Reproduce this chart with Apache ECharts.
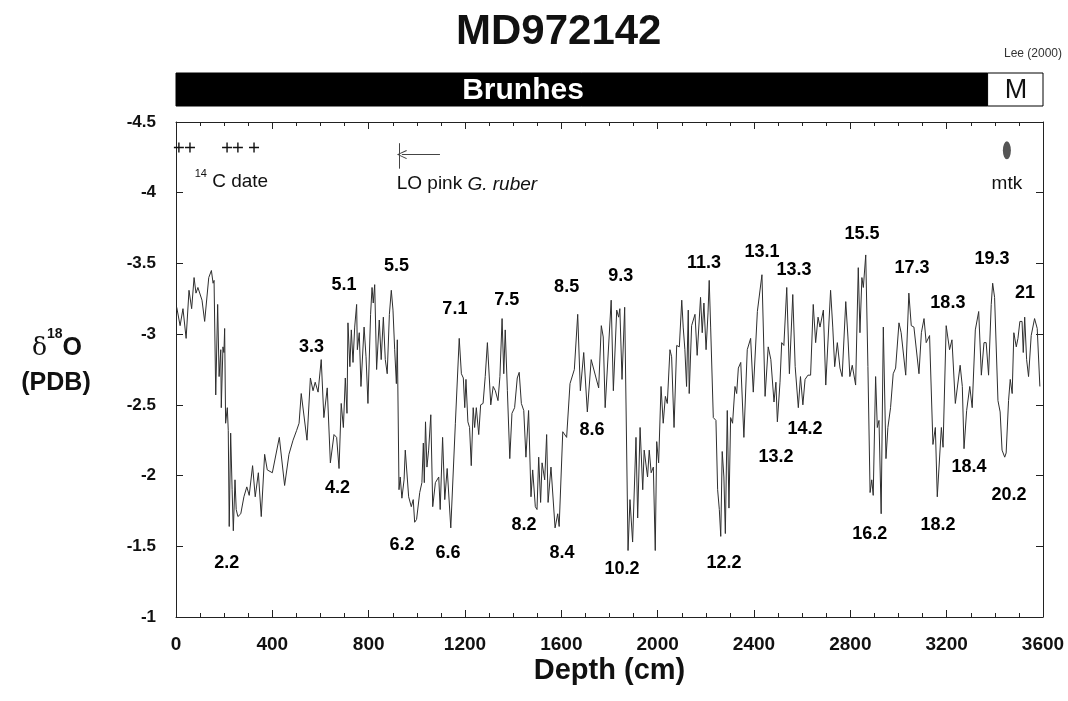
<!DOCTYPE html>
<html>
<head>
<meta charset="utf-8">
<title>MD972142</title>
<script src="https://cdn.jsdelivr.net/npm/echarts@6/dist/echarts.min.js"></script>
<style>
  html, body { margin: 0; padding: 0; background: #fff; }
  #chart { width: 1068px; height: 701px; }
</style>
</head>
<body>
<div id="chart"></div>
<script>
// d18O record, depth in cm
var depthCm = [3, 17, 29, 42, 54, 65, 75, 83, 91, 108, 119, 136, 147, 154, 158, 165, 173, 179, 186, 188,
  195, 199, 202, 206, 213, 217, 221, 227, 233, 238, 245, 250, 257, 269, 282, 294, 304, 318, 329, 342,
  354, 368, 379, 400, 429, 451, 469, 486, 501, 511, 520, 544, 558, 569, 578, 590, 603, 614, 628, 641,
  656, 667, 677, 686, 695, 703, 710, 714, 722, 728, 735, 742, 750, 753, 761, 768, 781, 789, 797, 808,
  814, 819, 825, 833, 844, 852, 861, 869, 877, 886, 894, 901, 908, 915, 919, 926, 931, 938, 947, 952,
  958, 966, 977, 985, 991, 999, 1012, 1021, 1027, 1031, 1036, 1042, 1049, 1058, 1066, 1077, 1091, 1097, 1107, 1116,
  1126, 1141, 1160, 1176, 1185, 1193, 1199, 1204, 1212, 1219, 1226, 1234, 1240, 1247, 1257, 1265, 1275, 1284, 1293, 1307,
  1317, 1326, 1337, 1345, 1354, 1361, 1367, 1376, 1386, 1395, 1406, 1417, 1425, 1434, 1444, 1453, 1464, 1474, 1481, 1492,
  1499, 1506, 1514, 1520, 1531, 1539, 1545, 1557, 1574, 1585, 1591, 1606, 1622, 1636, 1654, 1668, 1679, 1693, 1708, 1724,
  1755, 1766, 1774, 1782, 1807, 1816, 1830, 1838, 1843, 1852, 1863, 1877, 1885, 1896, 1910, 1917, 1927, 1938, 1944, 1958,
  1965, 1973, 1982, 1990, 1996, 2004, 2014, 2023, 2032, 2040, 2051, 2058, 2068, 2079, 2090, 2100, 2106, 2113, 2120, 2127,
  2131, 2141, 2155, 2164, 2178, 2185, 2192, 2201, 2209, 2214, 2220, 2231, 2242, 2249, 2256, 2262, 2268, 2275, 2281, 2289,
  2296, 2303, 2311, 2321, 2328, 2335, 2345, 2358, 2372, 2386, 2397, 2414, 2433, 2446, 2459, 2470, 2483, 2491, 2497, 2508,
  2515, 2524, 2536, 2547, 2561, 2571, 2584, 2593, 2603, 2612, 2624, 2635, 2646, 2656, 2666, 2674, 2688, 2698, 2704, 2718,
  2727, 2735, 2746, 2757, 2766, 2781, 2790, 2798, 2808, 2822, 2833, 2840, 2848, 2854, 2864, 2873, 2882, 2889, 2895, 2905,
  2912, 2919, 2928, 2937, 2948, 2956, 2967, 2978, 2988, 3002, 3011, 3030, 3043, 3053, 3064, 3085, 3095, 3106, 3115, 3129,
  3143, 3153, 3161, 3178, 3185, 3198, 3212, 3222, 3236, 3244, 3256, 3265, 3272, 3283, 3296, 3306, 3319, 3333, 3344, 3355,
  3364, 3374, 3385, 3391, 3399, 3413, 3422, 3430, 3441, 3447, 3457, 3464, 3472, 3479, 3489, 3496, 3504, 3513, 3518, 3524,
  3532, 3540, 3551, 3565, 3576, 3587];
var d18O = [-3.19, -3.06, -3.18, -2.97, -3.31, -3.18, -3.40, -3.29, -3.33, -3.24, -3.09, -3.40, -3.45, -3.36, -3.38, -2.57, -3.21, -2.70, -2.89, -2.48,
  -2.91, -2.87, -3.04, -2.37, -2.48, -2.32, -1.64, -2.30, -1.90, -1.61, -1.97, -1.76, -1.71, -1.73, -1.85, -1.92, -1.86, -2.07, -1.85, -2.02,
  -1.71, -2.15, -2.04, -2.02, -2.27, -1.93, -2.15, -2.25, -2.32, -2.37, -2.58, -2.25, -2.69, -2.60, -2.66, -2.59, -2.82, -2.41, -2.62, -2.09,
  -2.29, -2.27, -2.05, -2.51, -2.34, -2.69, -2.44, -3.08, -2.77, -3.03, -2.80, -3.05, -3.21, -2.89, -3.01, -2.63, -3.05, -2.84, -2.51, -3.14,
  -3.33, -3.22, -3.35, -2.75, -3.10, -2.82, -3.12, -2.82, -2.72, -3.14, -3.31, -3.17, -2.89, -2.65, -2.96, -1.90, -1.99, -1.84, -1.97, -2.18,
  -2.18, -1.85, -1.78, -1.83, -1.67, -1.69, -1.88, -1.95, -2.23, -1.95, -2.38, -2.06, -2.18, -2.43, -1.78, -1.95, -1.99, -1.76, -2.27, -1.83,
  -2.05, -1.63, -2.37, -2.97, -2.72, -2.69, -2.48, -2.68, -2.38, -2.34, -2.07, -2.48, -2.34, -2.48, -2.29, -2.50, -2.51, -2.70, -2.94, -2.50,
  -2.63, -2.60, -2.53, -2.70, -3.11, -2.72, -3.03, -2.60, -2.12, -2.44, -2.48, -2.69, -2.73, -2.51, -2.46, -2.13, -2.46, -1.85, -2.04, -1.78,
  -1.76, -2.13, -1.81, -2.09, -1.97, -2.29, -1.81, -2.06, -1.63, -1.73, -1.64, -2.31, -2.27, -2.65, -2.75, -3.14, -2.60, -2.87, -2.45, -2.82,
  -2.62, -3.06, -2.98, -2.48, -3.24, -2.60, -3.17, -3.12, -3.18, -2.68, -3.19, -1.47, -1.83, -1.53, -2.27, -1.70, -2.34, -1.90, -2.18, -1.99,
  -2.18, -2.02, -2.06, -1.47, -2.24, -2.09, -2.63, -2.37, -2.56, -2.51, -2.89, -2.84, -2.34, -2.92, -2.91, -3.24, -3.05, -2.89, -2.63, -3.17,
  -2.58, -3.06, -3.14, -2.85, -3.26, -3.01, -3.22, -2.89, -3.15, -3.38, -3.05, -2.41, -2.39, -1.90, -1.76, -1.57, -2.17, -1.99, -1.59, -2.46,
  -1.77, -2.41, -2.37, -2.63, -2.58, -2.76, -2.80, -2.27, -2.89, -2.97, -2.59, -3.16, -3.42, -2.56, -2.91, -2.82, -2.52, -2.66, -2.38, -2.66,
  -2.94, -2.92, -3.33, -2.72, -3.28, -2.77, -2.48, -2.70, -2.50, -2.68, -2.71, -2.71, -3.21, -2.94, -3.12, -3.05, -3.17, -2.64, -2.65, -3.31,
  -3.05, -2.77, -2.94, -2.76, -2.70, -3.23, -2.98, -2.70, -2.78, -2.64, -3.47, -3.01, -3.40, -3.33, -3.56, -2.77, -1.88, -1.97, -1.86, -2.70,
  -2.34, -2.39, -1.73, -3.05, -2.12, -2.34, -2.48, -2.72, -2.76, -3.08, -3.01, -2.71, -3.29, -3.06, -3.05, -2.72, -3.01, -3.11, -2.94, -2.99,
  -2.22, -2.34, -1.85, -2.34, -2.20, -3.06, -2.89, -2.96, -2.51, -2.50, -2.78, -2.63, -2.19, -2.46, -2.63, -2.48, -3.03, -3.16, -2.71, -2.94,
  -2.94, -2.71, -3.21, -3.36, -3.26, -2.53, -2.45, -2.18, -2.13, -2.16, -2.53, -2.68, -2.58, -3.01, -2.91, -2.97, -3.09, -3.09, -2.87, -3.12,
  -2.82, -2.70, -2.99, -3.11, -3.04, -2.63];

// marine isotope stage labels (placed at depth / value)
var stageNames = ['2.2', '3.3', '4.2', '5.1', '5.5', '6.2', '6.6', '7.1', '7.5', '8.2', '8.4', '8.5', '8.6', '9.3', '10.2',
  '11.3', '12.2', '13.1', '13.3', '13.2', '14.2', '15.5', '16.2', '17.3', '18.3', '18.2', '18.4', '19.3', '20.2', '21'];
var stageDepths = [211, 563, 671, 698, 916, 938, 1129, 1158, 1373, 1445, 1603, 1622, 1727, 1847, 1852,
  2192, 2275, 2433, 2566, 2491, 2612, 2848, 2881, 3056, 3205, 3164, 3293, 3388, 3459, 3525];
var stageValues = [-1.38, -2.91, -1.91, -3.35, -3.48, -1.51, -1.45, -3.18, -3.24, -1.65, -1.45, -3.33, -2.32, -3.41, -1.34,
  -3.50, -1.38, -3.58, -3.45, -2.13, -2.33, -3.71, -1.59, -3.47, -3.22, -1.65, -2.06, -3.53, -1.86, -3.29];

// 14C dates, LO pink G. ruber, mtk tephra
var c14Depths = [12, 58, 212, 257, 324];
var c14Level = -4.32;
var loRuberDepth = 926;
var mtkDepth = 3450;

// magnetic chrons
var chronNames = ['Brunhes', 'M'];
var chronStart = [0, 3370];
var chronEnd = [3370, 3600];
var chronLabelAt = [1441, 3488];

var FONT = '"Liberation Sans", Arial, Helvetica, sans-serif';

var lineData = depthCm.map(function (d, i) { return [d, d18O[i]]; });
var stageData = stageNames.map(function (n, i) { return [stageDepths[i], stageValues[i], n]; });
var c14Data = c14Depths.map(function (d) { return [d, c14Level]; });
var chronData = chronNames.map(function (n, i) { return [chronStart[i], chronEnd[i], chronLabelAt[i]]; });

var chart = echarts.init(document.getElementById('chart'));

function frameAxis(extra) {
  var base = {
    axisLine: { onZero: false, lineStyle: { color: '#222', width: 1 } },
    axisTick: { show: true, inside: true, length: 7, lineStyle: { color: '#222' } },
    splitLine: { show: false }
  };
  return Object.assign(base, extra);
}

var option = {
  animation: false,
  backgroundColor: '#fff',
  title: {
    text: 'MD972142',
    left: 451,
    top: 6,
    textStyle: { fontFamily: FONT, fontSize: 42, fontWeight: 'bold', color: '#111' }
  },
  graphic: [
    {
      type: 'text', right: 6, top: 48,
      style: { text: 'Lee (2000)', font: '12px ' + FONT, fill: '#333' }
    },
    {
      type: 'text', x: 57, y: 344,
      style: {
        text: '{d|δ}{s|18}{o|O}',
        align: 'center', verticalAlign: 'middle',
        rich: {
          d: { fontFamily: '"DejaVu Serif", serif', fontSize: 25, fill: '#111', lineHeight: 34, verticalAlign: 'bottom' },
          s: { fontFamily: FONT, fontSize: 14, fontWeight: 'bold', fill: '#111', lineHeight: 34, verticalAlign: 'top', padding: [0, 0, 12, 0] },
          o: { fontFamily: FONT, fontSize: 25, fontWeight: 'bold', fill: '#111', lineHeight: 34, verticalAlign: 'bottom' }
        }
      }
    },
    {
      type: 'text', x: 56, y: 383,
      style: {
        text: '(PDB)', align: 'center', verticalAlign: 'middle',
        font: 'bold 25px ' + FONT, fill: '#111'
      }
    }
  ],
  grid: [
    { left: 176, top: 122, width: 867, height: 495 },
    { left: 176, top: 73, width: 867, height: 33 }
  ],
  xAxis: [
    frameAxis({
      gridIndex: 0, type: 'value', position: 'bottom', min: 0, max: 3600, interval: 400,
      name: 'Depth (cm)', nameLocation: 'middle', nameGap: 39, nameMoveOverlap: false,
      nameTextStyle: { fontFamily: FONT, fontSize: 29, fontWeight: 'bold', color: '#111' },
      minorTick: { show: true, splitNumber: 4, length: 4, lineStyle: { color: '#222' } },
      axisLabel: {
        margin: 18, fontFamily: FONT, fontSize: 19, fontWeight: 'bold', color: '#111',
        formatter: function (v) { return String(v); }
      }
    }),
    frameAxis({
      gridIndex: 0, type: 'value', position: 'top', min: 0, max: 3600, interval: 400,
      minorTick: { show: true, splitNumber: 4, length: 4, lineStyle: { color: '#222' } },
      axisLabel: { show: false }
    }),
    { gridIndex: 1, type: 'value', min: 0, max: 3600, show: false }
  ],
  yAxis: [
    frameAxis({
      gridIndex: 0, type: 'value', position: 'left', inverse: true, min: -4.5, max: -1, interval: 0.5,
      axisLabel: { margin: 20, fontFamily: FONT, fontSize: 17, fontWeight: 'bold', color: '#111' }
    }),
    frameAxis({
      gridIndex: 0, type: 'value', position: 'right', inverse: true, min: -4.5, max: -1, interval: 0.5,
      axisLabel: { show: false }
    }),
    { gridIndex: 1, type: 'value', min: 0, max: 1, show: false }
  ],
  series: [
    {
      name: 'd18O', type: 'line', xAxisIndex: 0, yAxisIndex: 0,
      data: lineData, showSymbol: false, symbol: 'none',
      lineStyle: { color: '#2e2e2e', width: 1 },
      markLine: {
        silent: true, symbol: 'none', label: { show: false },
        lineStyle: { color: '#444', width: 1, type: 'solid', opacity: 1 },
        data: [
          [{ coord: [loRuberDepth, -4.35] }, { coord: [loRuberDepth, -4.17] }],
          [{ coord: [loRuberDepth + 170, -4.27], symbol: 'none' },
           { coord: [loRuberDepth + 12, -4.27], symbol: 'path://M5,0 L10,10 L9,10.6 L5,2 L1,10.6 L0,10 Z', symbolSize: [9, 10] }]
        ]
      }
    },
    {
      name: '14C', type: 'scatter', xAxisIndex: 0, yAxisIndex: 0,
      data: c14Data,
      symbol: 'path://M4.3,0 H5.7 V4.3 H10 V5.7 H5.7 V10 H4.3 V5.7 H0 V4.3 H4.3 Z',
      symbolSize: 10, itemStyle: { color: '#111', opacity: 1 }
    },
    {
      name: 'mtk', type: 'scatter', xAxisIndex: 0, yAxisIndex: 0,
      data: [[mtkDepth, -4.30]],
      symbol: 'circle', symbolSize: [8, 18], itemStyle: { color: '#555', opacity: 1 }
    },
    {
      name: 'notes', type: 'scatter', xAxisIndex: 0, yAxisIndex: 0, symbolSize: 0,
      itemStyle: { opacity: 1 },
      data: [[230, -4.08, 'c14'], [1208, -4.06, 'lo'], [mtkDepth, -4.06, 'mtk']],
      label: {
        show: true, position: 'inside', color: '#111', opacity: 1,
        formatter: function (p) {
          if (p.data[2] === 'c14') return '{sup|14}{n| C date}';
          if (p.data[2] === 'lo') return '{n|LO pink }{i|G. ruber}';
          return '{n|mtk}';
        },
        rich: {
          n: { fontFamily: FONT, fontSize: 19, color: '#111' },
          i: { fontFamily: FONT, fontSize: 19, fontStyle: 'italic', color: '#111' },
          sup: { fontFamily: FONT, fontSize: 11, color: '#111', verticalAlign: 'top', padding: [0, 0, 14, 0] }
        }
      }
    },
    {
      name: 'stages', type: 'scatter', xAxisIndex: 0, yAxisIndex: 0, symbolSize: 0,
      itemStyle: { opacity: 1 },
      data: stageData,
      label: {
        show: true, position: 'inside', opacity: 1,
        formatter: function (p) { return p.data[2]; },
        fontFamily: FONT, fontSize: 18, fontWeight: 'bold', color: '#000'
      }
    },
    {
      name: 'chrons', type: 'custom', xAxisIndex: 2, yAxisIndex: 2,
      data: chronData,
      renderItem: function (params, api) {
        var s = api.coord([api.value(0), 1]);
        var e = api.coord([api.value(1), 0]);
        var t = api.coord([api.value(2), 0.5]);
        var dark = params.dataIndex === 0;
        return {
          type: 'group',
          children: [
            {
              type: 'rect',
              shape: { x: s[0], y: s[1], width: e[0] - s[0], height: e[1] - s[1] },
              style: { fill: dark ? '#000' : '#fff', stroke: '#000', lineWidth: 1 }
            },
            {
              type: 'text',
              style: {
                text: chronNames[params.dataIndex],
                x: t[0], y: t[1] + 1,
                textAlign: 'center', textVerticalAlign: 'middle',
                fill: dark ? '#fff' : '#111',
                font: (dark ? 'bold 30px ' : '27px ') + FONT
              }
            }
          ]
        };
      }
    }
  ]
};

chart.setOption(option);
</script>
</body>
</html>
